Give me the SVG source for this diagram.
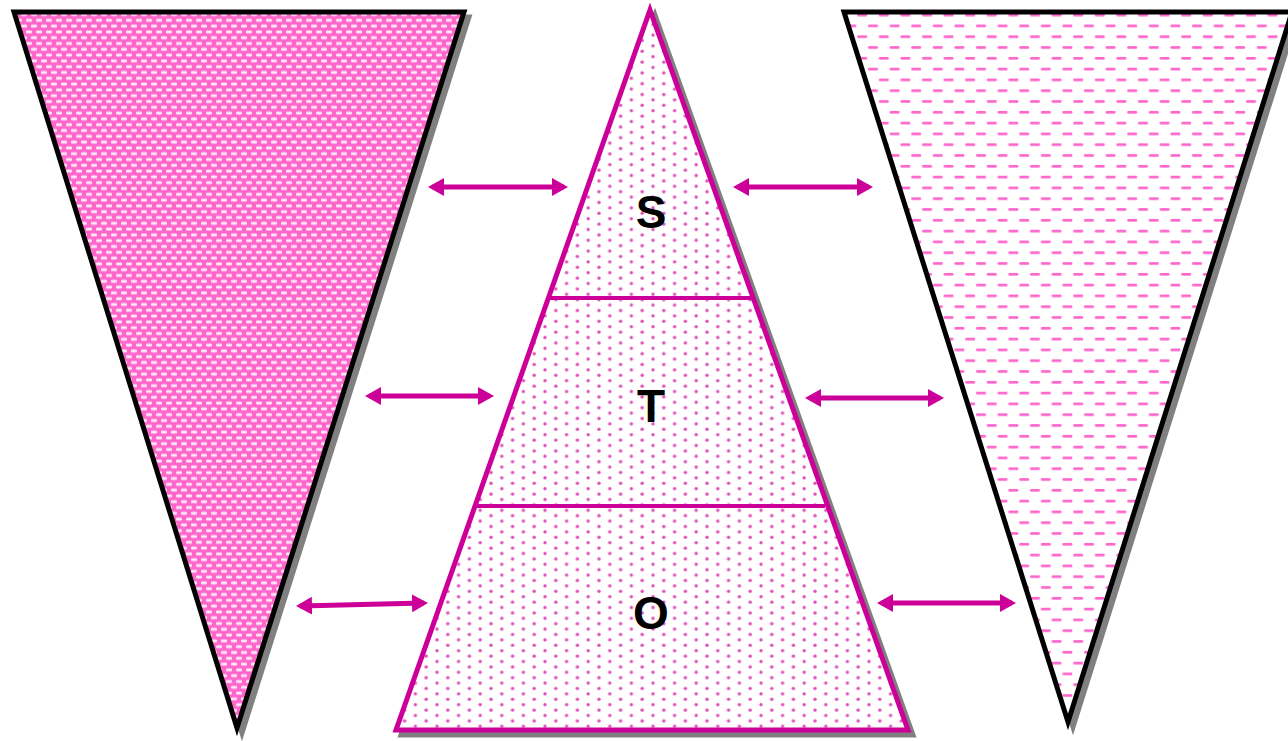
<svg xmlns="http://www.w3.org/2000/svg" width="1288" height="741" viewBox="0 0 1288 741">
<style>
.shadow{fill:#808080;stroke:#808080;stroke-width:5;stroke-linejoin:miter}
.blk{stroke:#000;stroke-width:5;stroke-linejoin:miter}
.mag{stroke:#CC0099;stroke-width:5;stroke-linejoin:miter}
.div{stroke:#CC0099;stroke-width:4;fill:none}
.arr{stroke:#CC0099;stroke-width:5;fill:none;marker-start:url(#ah);marker-end:url(#ah)}
.lbl{font-family:"Liberation Sans",Arial,sans-serif;font-weight:bold;font-size:46px;fill:#000;text-anchor:middle}
</style>
<defs>
<pattern id="bricks" width="10" height="11.6" patternUnits="userSpaceOnUse">
<rect width="10" height="11.6" fill="#FF66CC"/>
<rect x="1" y="1.4" width="6" height="3" rx="1" fill="#FFE8F6"/>
<rect x="6" y="7.2" width="6" height="3" rx="1" fill="#FFE8F6"/>
<rect x="-4" y="7.2" width="6" height="3" rx="1" fill="#FFE8F6"/>
</pattern>
<pattern id="dots" width="21.6" height="10.8" patternUnits="userSpaceOnUse">
<rect width="21.6" height="10.8" fill="#fff"/>
<circle cx="5" cy="2.7" r="1.7" fill="#E050B8"/>
<circle cx="15.8" cy="8.1" r="1.7" fill="#E050B8"/>
</pattern>
<pattern id="dashes" width="21.6" height="21.6" patternUnits="userSpaceOnUse">
<rect width="21.6" height="21.6" fill="#fff"/>
<rect x="4" y="3" width="10" height="2.6" rx="1.2" fill="#FF66CC"/>
<rect x="14.8" y="13.8" width="10" height="2.6" rx="1.2" fill="#FF66CC"/>
<rect x="-6.8" y="13.8" width="10" height="2.6" rx="1.2" fill="#FF66CC"/>
</pattern>
<marker id="ah" viewBox="0 0 16 18" refX="11.6" refY="9" markerWidth="16" markerHeight="18" orient="auto-start-reverse" markerUnits="userSpaceOnUse">
<path d="M0,0 L16,9 L0,18 Z" fill="#CC0099"/>
</marker>
</defs>
<g id="left-triangle">
<polygon class="shadow" points="19,17 469,17 242,733"/>
<polygon class="blk" fill="url(#bricks)" points="14,12 464,12 237,728"/>
</g>
<g id="center-pyramid">
<polygon class="shadow" points="655,15 913,735 401,735"/>
<polygon class="mag" fill="url(#dots)" points="650,10 908,730 396,730"/>
<line class="div" x1="549" y1="298" x2="751" y2="298"/>
<line class="div" x1="476" y1="506" x2="825" y2="506"/>
</g>
<g id="label-S"><text class="lbl" x="651" y="228">S</text></g>
<g id="label-T"><text class="lbl" x="651" y="422">T</text></g>
<g id="label-O"><text class="lbl" x="651" y="629">O</text></g>
<g id="right-triangle">
<polygon class="shadow" points="849,17 1297,17 1073,727"/>
<polygon class="blk" fill="url(#dashes)" points="844,12 1292,12 1068,722"/>
</g>
<g id="connectors">
<line class="arr" x1="432.4" y1="187" x2="563.6" y2="187"/>
<line class="arr" x1="737.4" y1="187" x2="868.6" y2="187"/>
<line class="arr" x1="369.4" y1="396" x2="489.6" y2="396"/>
<line class="arr" x1="809.4" y1="398" x2="939.6" y2="398"/>
<line class="arr" x1="300.4" y1="606" x2="423.6" y2="603"/>
<line class="arr" x1="881.4" y1="603" x2="1011.6" y2="603"/>
</g>
</svg>
